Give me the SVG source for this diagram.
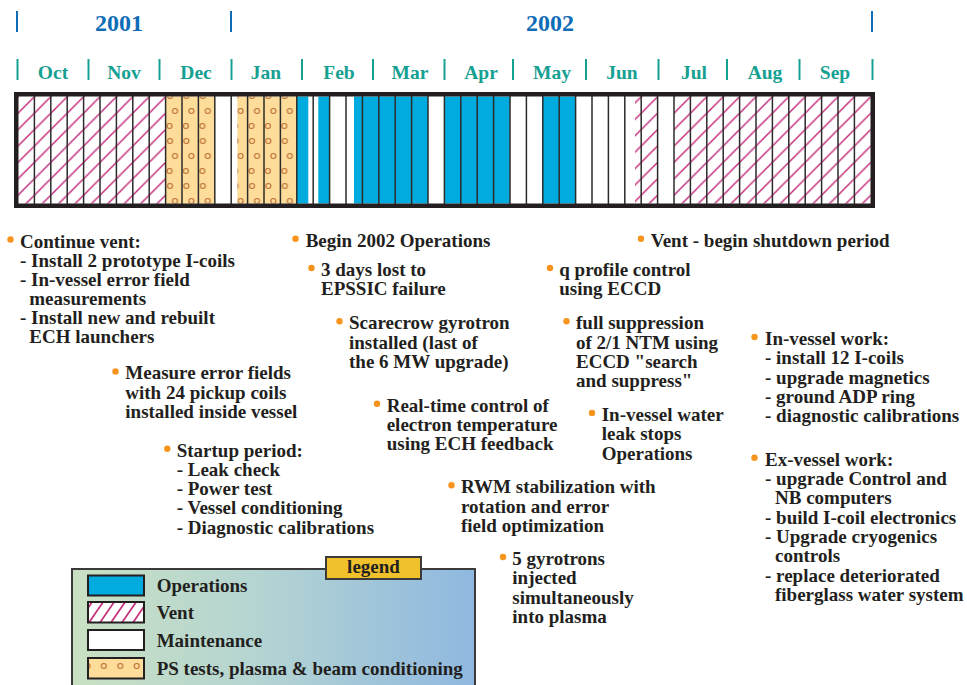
<svg xmlns="http://www.w3.org/2000/svg" width="967" height="685" viewBox="0 0 967 685">
<defs>
<style>
.t{font-family:"Liberation Serif","Times New Roman",serif;font-weight:bold;font-size:19px;fill:#231f20}
.yr{font-family:"Liberation Serif","Times New Roman",serif;font-weight:bold;font-size:24px;fill:#0f6cb6;text-anchor:middle}
.mo{font-family:"Liberation Serif","Times New Roman",serif;font-weight:bold;font-size:19.5px;fill:#16a092;text-anchor:middle}
.ytk{stroke:#0f6cb6;stroke-width:2}
.mtk{stroke:#16a092;stroke-width:2}
.sep{stroke:#2b2b2b;stroke-width:1.5}
.b{fill:#f7941d}
.ops{fill:#00acdf}
.ven{fill:url(#hatch)}
.ps{fill:url(#dots)}
.sw{stroke:#231f20;stroke-width:2}
</style>
<pattern id="hatch" patternUnits="userSpaceOnUse" x="0" y="0" width="16.4" height="16.4">
<rect width="16.4" height="16.4" fill="#fff"/>
<path d="M0,16.4 L16.4,0 M-2,2 L2,-2 M14.4,18.4 L18.4,14.4" stroke="#c4307c" stroke-width="1.5"/>
</pattern>
<pattern id="hatch2" patternUnits="userSpaceOnUse" x="0" y="0" width="11" height="16">
<rect width="11" height="16" fill="#fff"/>
<path d="M0,16 L11,0 M-2,3 L2,-3 M9,19 L13,13" stroke="#c4307c" stroke-width="1.8"/>
</pattern>
<pattern id="dots" patternUnits="userSpaceOnUse" x="0" y="0" width="16.4" height="45">
<rect width="16.4" height="45" fill="#fedc9a"/>
<g fill="none" stroke="#bb6d33" stroke-width="1.1">
<circle cx="6" cy="6" r="2.5"/>
<circle cx="11" cy="21" r="2.5"/>
<circle cx="5.5" cy="36" r="2.5"/>
</g>
</pattern>
<linearGradient id="lg" x1="0" y1="0" x2="1" y2="0">
<stop offset="0" stop-color="#c9e0c2"/>
<stop offset="0.45" stop-color="#b5d5d2"/>
<stop offset="1" stop-color="#8fb8e0"/>
</linearGradient>
</defs>
<rect width="967" height="685" fill="#fff"/>

<g id="header">
<line class="ytk" x1="17" y1="11" x2="17" y2="32"/>
<line class="ytk" x1="231" y1="11" x2="231" y2="32"/>
<line class="ytk" x1="872" y1="11" x2="872" y2="32"/>
<text class="yr" x="119" y="31">2001</text>
<text class="yr" x="550" y="31">2002</text>
<line class="mtk" x1="17.5" y1="59" x2="17.5" y2="80"/>
<line class="mtk" x1="88.5" y1="59" x2="88.5" y2="80"/>
<line class="mtk" x1="159.5" y1="59" x2="159.5" y2="80"/>
<line class="mtk" x1="231.5" y1="59" x2="231.5" y2="80"/>
<line class="mtk" x1="302" y1="59" x2="302" y2="80"/>
<line class="mtk" x1="373" y1="59" x2="373" y2="80"/>
<line class="mtk" x1="444.5" y1="59" x2="444.5" y2="80"/>
<line class="mtk" x1="513" y1="59" x2="513" y2="80"/>
<line class="mtk" x1="586" y1="59" x2="586" y2="80"/>
<line class="mtk" x1="658.5" y1="59" x2="658.5" y2="80"/>
<line class="mtk" x1="727" y1="59" x2="727" y2="80"/>
<line class="mtk" x1="799.5" y1="59" x2="799.5" y2="80"/>
<line class="mtk" x1="872.5" y1="59" x2="872.5" y2="80"/>
<text class="mo" x="53" y="78.5">Oct</text>
<text class="mo" x="124" y="78.5">Nov</text>
<text class="mo" x="196" y="78.5">Dec</text>
<text class="mo" x="266" y="78.5">Jan</text>
<text class="mo" x="339" y="78.5">Feb</text>
<text class="mo" x="410" y="78.5">Mar</text>
<text class="mo" x="481" y="78.5">Apr</text>
<text class="mo" x="552" y="78.5">May</text>
<text class="mo" x="622" y="78.5">Jun</text>
<text class="mo" x="694" y="78.5">Jul</text>
<text class="mo" x="765" y="78.5">Aug</text>
<text class="mo" x="835" y="78.5">Sep</text>
</g>

<g id="timeline-bar">
<rect x="18" y="96.5" width="853" height="107" fill="#fff"/>
<rect class="ven" x="18" y="96.5" width="147.6" height="107"/>
<rect class="ps" x="165.6" y="96.5" width="49.2" height="107"/>
<rect class="ps" x="237.3" y="96.5" width="59.5" height="107"/>
<rect class="ops" x="296.8" y="96.5" width="11.5" height="107"/>
<rect class="ops" x="318.3" y="96.5" width="11.3" height="107"/>
<rect class="ops" x="354" y="96.5" width="74" height="107"/>
<rect class="ops" x="444.4" y="96.5" width="65.6" height="107"/>
<rect class="ops" x="542.8" y="96.5" width="32.8" height="107"/>
<rect class="ven" x="635" y="96.5" width="22.6" height="107"/>
<rect class="ven" x="674" y="96.5" width="196.8" height="107"/>
<g class="sep">
<line x1="34.4" y1="96" x2="34.4" y2="204"/>
<line x1="50.8" y1="96" x2="50.8" y2="204"/>
<line x1="67.2" y1="96" x2="67.2" y2="204"/>
<line x1="83.6" y1="96" x2="83.6" y2="204"/>
<line x1="100" y1="96" x2="100" y2="204"/>
<line x1="116.4" y1="96" x2="116.4" y2="204"/>
<line x1="132.8" y1="96" x2="132.8" y2="204"/>
<line x1="149.2" y1="96" x2="149.2" y2="204"/>
<line x1="165.6" y1="96" x2="165.6" y2="204"/>
<line x1="182" y1="96" x2="182" y2="204"/>
<line x1="198.4" y1="96" x2="198.4" y2="204"/>
<line x1="214.8" y1="96" x2="214.8" y2="204"/>
<line x1="231.2" y1="96" x2="231.2" y2="204"/>
<line x1="247.6" y1="96" x2="247.6" y2="204"/>
<line x1="264" y1="96" x2="264" y2="204"/>
<line x1="280.4" y1="96" x2="280.4" y2="204"/>
<line x1="296.8" y1="96" x2="296.8" y2="204"/>
<line x1="313.2" y1="96" x2="313.2" y2="204"/>
<line x1="329.6" y1="96" x2="329.6" y2="204"/>
<line x1="346" y1="96" x2="346" y2="204"/>
<line x1="362.4" y1="96" x2="362.4" y2="204"/>
<line x1="378.8" y1="96" x2="378.8" y2="204"/>
<line x1="395.2" y1="96" x2="395.2" y2="204"/>
<line x1="411.6" y1="96" x2="411.6" y2="204"/>
<line x1="428" y1="96" x2="428" y2="204"/>
<line x1="444.4" y1="96" x2="444.4" y2="204"/>
<line x1="460.8" y1="96" x2="460.8" y2="204"/>
<line x1="477.2" y1="96" x2="477.2" y2="204"/>
<line x1="493.6" y1="96" x2="493.6" y2="204"/>
<line x1="510" y1="96" x2="510" y2="204"/>
<line x1="526.4" y1="96" x2="526.4" y2="204"/>
<line x1="542.8" y1="96" x2="542.8" y2="204"/>
<line x1="559.2" y1="96" x2="559.2" y2="204"/>
<line x1="575.6" y1="96" x2="575.6" y2="204"/>
<line x1="592" y1="96" x2="592" y2="204"/>
<line x1="608.4" y1="96" x2="608.4" y2="204"/>
<line x1="624.8" y1="96" x2="624.8" y2="204"/>
<line x1="641.2" y1="96" x2="641.2" y2="204"/>
<line x1="657.6" y1="96" x2="657.6" y2="204"/>
<line x1="674" y1="96" x2="674" y2="204"/>
<line x1="690.4" y1="96" x2="690.4" y2="204"/>
<line x1="706.8" y1="96" x2="706.8" y2="204"/>
<line x1="723.2" y1="96" x2="723.2" y2="204"/>
<line x1="739.6" y1="96" x2="739.6" y2="204"/>
<line x1="756" y1="96" x2="756" y2="204"/>
<line x1="772.4" y1="96" x2="772.4" y2="204"/>
<line x1="788.8" y1="96" x2="788.8" y2="204"/>
<line x1="805.2" y1="96" x2="805.2" y2="204"/>
<line x1="821.6" y1="96" x2="821.6" y2="204"/>
<line x1="838" y1="96" x2="838" y2="204"/>
<line x1="854.4" y1="96" x2="854.4" y2="204"/>
</g>
<rect x="16.25" y="94.25" width="856.5" height="111.5" fill="none" stroke="#231f20" stroke-width="4.5"/>
</g>

<g id="note-continue-vent">
<circle class="b" cx="10.5" cy="239.5" r="3.2"/>
<text class="t" x="20" y="247.5">Continue vent:</text>
<text class="t" x="20" y="266.5">- Install 2 prototype I-coils</text>
<text class="t" x="20" y="285.7">- In-vessel error field</text>
<text class="t" x="29.3" y="304.7">measurements</text>
<text class="t" x="20" y="323.9">- Install new and rebuilt</text>
<text class="t" x="29.3" y="342.9">ECH launchers</text>
</g>
<g id="note-measure">
<circle class="b" cx="115.5" cy="371.5" r="3.2"/>
<text class="t" x="125.3" y="379.3">Measure error fields</text>
<text class="t" x="125.3" y="398.5">with 24 pickup coils</text>
<text class="t" x="125.3" y="417.7">installed inside vessel</text>
</g>
<g id="note-startup">
<circle class="b" cx="167.3" cy="448.7" r="3.2"/>
<text class="t" x="176.7" y="456.7">Startup period:</text>
<text class="t" x="176.7" y="475.9">- Leak check</text>
<text class="t" x="176.7" y="495.1">- Power test</text>
<text class="t" x="176.7" y="514.3">- Vessel conditioning</text>
<text class="t" x="176.7" y="533.5">- Diagnostic calibrations</text>
</g>
<g id="note-begin-2002">
<circle class="b" cx="295.5" cy="238.7" r="3.2"/>
<text class="t" x="305.7" y="246.7">Begin 2002 Operations</text>
</g>
<g id="note-3-days">
<circle class="b" cx="311.5" cy="268" r="3.2"/>
<text class="t" x="321" y="276">3 days lost to</text>
<text class="t" x="321" y="295.3">EPSSIC failure</text>
</g>
<g id="note-scarecrow">
<circle class="b" cx="339.5" cy="321.3" r="3.2"/>
<text class="t" x="349" y="329.3">Scarecrow gyrotron</text>
<text class="t" x="349" y="348.5">installed (last of</text>
<text class="t" x="349" y="367.7">the 6 MW upgrade)</text>
</g>
<g id="note-realtime">
<circle class="b" cx="377" cy="403.7" r="3.2"/>
<text class="t" x="386.7" y="411.7">Real-time control of</text>
<text class="t" x="386.7" y="430.9">electron temperature</text>
<text class="t" x="386.7" y="450.1">using ECH feedback</text>
</g>
<g id="note-rwm">
<circle class="b" cx="451.5" cy="485.3" r="3.2"/>
<text class="t" x="461" y="493.3">RWM stabilization with</text>
<text class="t" x="461" y="512.6">rotation and error</text>
<text class="t" x="461" y="531.9">field optimization</text>
</g>
<g id="note-5-gyrotrons">
<circle class="b" cx="503" cy="557" r="3.2"/>
<text class="t" x="512.3" y="565">5 gyrotrons</text>
<text class="t" x="512.3" y="584.3">injected</text>
<text class="t" x="512.3" y="603.6">simultaneously</text>
<text class="t" x="512.3" y="622.9">into plasma</text>
</g>
<g id="note-vent-shutdown">
<circle class="b" cx="641" cy="238.7" r="3.2"/>
<text class="t" x="650.7" y="246.7">Vent - begin shutdown period</text>
</g>
<g id="note-q-profile">
<circle class="b" cx="550" cy="268" r="3.2"/>
<text class="t" x="559.3" y="276">q profile control</text>
<text class="t" x="559.3" y="295.3">using ECCD</text>
</g>
<g id="note-full-suppression">
<circle class="b" cx="566.5" cy="321.3" r="3.2"/>
<text class="t" x="576" y="329.3">full suppression</text>
<text class="t" x="576" y="348.5">of 2/1 NTM using</text>
<text class="t" x="576" y="367.7">ECCD "search</text>
<text class="t" x="576" y="387">and suppress"</text>
</g>
<g id="note-water-leak">
<circle class="b" cx="592" cy="413" r="3.2"/>
<text class="t" x="601.7" y="421">In-vessel water</text>
<text class="t" x="601.7" y="440.3">leak stops</text>
<text class="t" x="601.7" y="459.6">Operations</text>
</g>
<g id="note-in-vessel-work">
<circle class="b" cx="754.5" cy="337" r="3.2"/>
<text class="t" x="765" y="345">In-vessel work:</text>
<text class="t" x="765" y="364.3">- install 12 I-coils</text>
<text class="t" x="765" y="383.6">- upgrade magnetics</text>
<text class="t" x="765" y="402.9">- ground ADP ring</text>
<text class="t" x="765" y="422.2">- diagnostic calibrations</text>
</g>
<g id="note-ex-vessel-work">
<circle class="b" cx="754.5" cy="457.7" r="3.2"/>
<text class="t" x="765" y="465.7">Ex-vessel work:</text>
<text class="t" x="765" y="485">- upgrade Control and</text>
<text class="t" x="775" y="504.3">NB computers</text>
<text class="t" x="765" y="523.6">- build I-coil electronics</text>
<text class="t" x="765" y="542.9">- Upgrade cryogenics</text>
<text class="t" x="775" y="562.2">controls</text>
<text class="t" x="765" y="581.5">- replace deteriorated</text>
<text class="t" x="775" y="600.8">fiberglass water system</text>
</g>

<g id="legend">
<rect x="72" y="569" width="403" height="130" fill="url(#lg)" stroke="#3a3a3a" stroke-width="2"/>
<rect x="326" y="557" width="95" height="22" fill="#f1c12c" stroke="#3a3a3a" stroke-width="2"/>
<text class="t" x="373.5" y="573" text-anchor="middle">legend</text>
<rect class="sw ops" x="88" y="575.5" width="56" height="20"/>
<text class="t" x="156.7" y="591.7">Operations</text>
<rect class="sw" x="88" y="602" width="56" height="20.5" fill="url(#hatch2)"/>
<text class="t" x="156.7" y="619">Vent</text>
<rect class="sw" x="88" y="630" width="56" height="20" fill="#fff"/>
<text class="t" x="156.7" y="646.7">Maintenance</text>
<rect class="sw ps" x="88" y="658" width="56" height="20.5"/>
<text class="t" x="156.7" y="675">PS tests, plasma &amp; beam conditioning</text>
</g>
</svg>
